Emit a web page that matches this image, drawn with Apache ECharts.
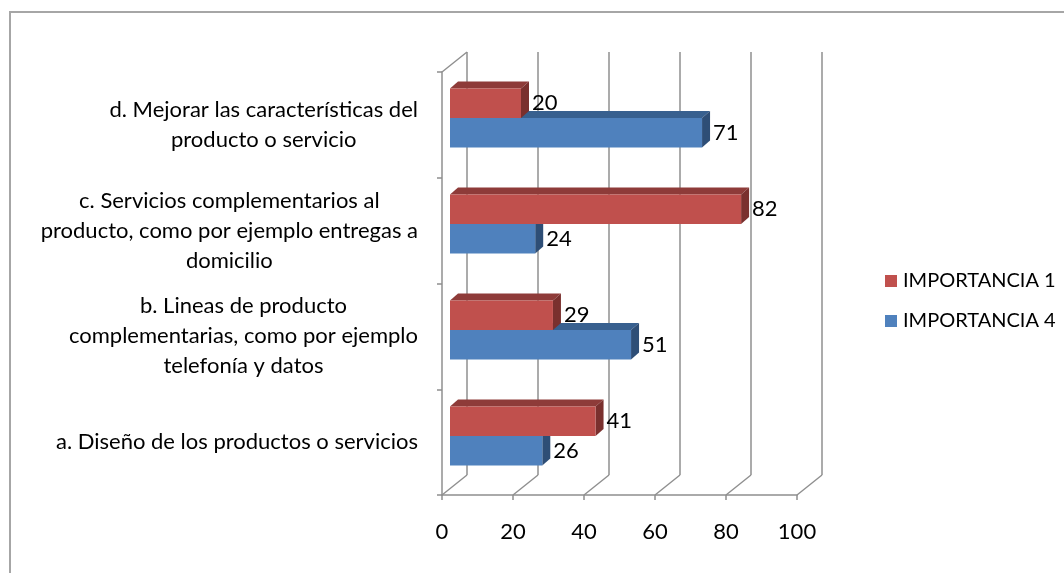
<!DOCTYPE html>
<html>
<head>
<meta charset="utf-8">
<script src="https://cdn.jsdelivr.net/npm/echarts@6/dist/echarts.min.js"></script>
<style>
  html, body { margin: 0; padding: 0; background: #ffffff; }
  #chart { width: 1064px; height: 573px; }
</style>
</head>
<body>
<div id="chart"></div>
<script>
// Categories, bottom to top
const categories = [
  'a. Diseño de los productos o servicios',
  'b. Lineas de producto\ncomplementarias, como por ejemplo\ntelefonía y datos',
  'c. Servicios complementarios al\nproducto, como por ejemplo entregas a\ndomicilio',
  'd. Mejorar las características del\nproducto o servicio'
];
const seriesNames = ['IMPORTANCIA 1', 'IMPORTANCIA 4'];
const importancia1 = [41, 29, 82, 20];
const importancia4 = [26, 51, 24, 71];
const xTicks = [0, 20, 40, 60, 80, 100];

// Layout / style settings
const FONT = 'Lato';
const FS = 22;
const DEPTH_X = 25, DEPTH_Y = 20;   // floor depth offset (front -> back)
const BAR_DX = 8, BAR_DY = 7;       // bar depth offset
const BAR_H = 29.5;
const GRID_COLOR = '#8f8f8f';

const palette = {
  red:  { front: '#C0504D', top: '#8E3B39', side: '#7A302E' },
  blue: { front: '#4F81BD', top: '#38608F', side: '#2E4E76' }
};

const chart = echarts.init(document.getElementById('chart'), null, { renderer: 'canvas' });

function barRenderer(upper, col) {
  return function (params, api) {
    const v = api.value(0), i = api.value(1);
    const start = api.coord([0, i]);
    const end = api.coord([v, i]);
    const cy = end[1];
    const y0 = upper ? cy - BAR_H : cy;
    const x0 = start[0], x1 = end[0];
    const h = BAR_H;
    return {
      type: 'group',
      children: [
        { type: 'polygon', shape: { points: [[x0, y0], [x0 + BAR_DX, y0 - BAR_DY], [x1 + BAR_DX, y0 - BAR_DY], [x1, y0]] },
          style: { fill: col.top } },
        { type: 'polygon', shape: { points: [[x1, y0], [x1 + BAR_DX, y0 - BAR_DY], [x1 + BAR_DX, y0 + h - BAR_DY], [x1, y0 + h]] },
          style: { fill: col.side } },
        { type: 'rect', shape: { x: x0, y: y0, width: x1 - x0, height: h },
          style: { fill: col.front } },
        { type: 'text', style: { text: String(v), x: x1 + BAR_DX + 3, y: y0 + h / 2,
          align: 'left', verticalAlign: 'middle', font: FS + 'px ' + FONT, fill: '#000' } }
      ]
    };
  };
}

// Floor diagonals and the top edge of the side wall
function floorRenderer(params, api) {
  const t = api.value(0);
  const cs = params.coordSys;
  const x = api.coord([t, 0])[0];
  const bottom = cs.y + cs.height;
  const children = [
    { type: 'line', shape: { x1: x, y1: bottom, x2: x - DEPTH_X, y2: bottom + DEPTH_Y },
      style: { stroke: GRID_COLOR, lineWidth: 1.5 } }
  ];
  if (t === xTicks[0]) {
    children.push({ type: 'line', shape: { x1: x, y1: cs.y, x2: x - DEPTH_X, y2: cs.y + DEPTH_Y },
      style: { stroke: GRID_COLOR, lineWidth: 1.5 } });
  }
  return { type: 'group', children: children };
}

const option = {
  backgroundColor: '#ffffff',
  animation: false,
  graphic: [{
    type: 'rect', silent: true, z: -10,
    shape: { x: 10, y: 12, width: 1200, height: 700 },
    style: { fill: 'none', stroke: '#a6a6a6', lineWidth: 2 }
  }],
  legend: {
    orient: 'vertical',
    left: 880, top: 266,
    icon: 'rect', itemWidth: 12, itemHeight: 12, itemGap: 20,
    data: seriesNames,
    textStyle: { fontFamily: FONT, fontSize: 20, color: '#000', padding: [0, 0, 0, 1] }
  },
  grid: [
    { left: 450, top: 65, width: 355, height: 424 },   // bars
    { left: 467, top: 52, width: 355, height: 423 },   // back wall
    { left: 442, top: 72, width: 355, height: 423 }    // front axes
  ],
  xAxis: [
    { gridIndex: 0, type: 'value', min: 0, max: 100, show: false },
    { gridIndex: 1, type: 'value', min: 0, max: 100, interval: 20,
      axisLine: { show: false }, axisTick: { show: false }, axisLabel: { show: false },
      splitLine: { show: true, lineStyle: { color: GRID_COLOR, width: 1.5 } } },
    { gridIndex: 2, type: 'value', min: 0, max: 100, interval: 20,
      axisLine: { show: true, lineStyle: { color: GRID_COLOR, width: 1.5 } },
      axisTick: { show: true, length: 5, lineStyle: { color: GRID_COLOR, width: 1.5 } },
      splitLine: { show: false },
      axisLabel: { margin: 26, fontFamily: FONT, fontSize: FS, color: '#000' } }
  ],
  yAxis: [
    { gridIndex: 0, type: 'category', data: categories, show: false },
    { gridIndex: 1, type: 'category', data: categories, show: false },
    { gridIndex: 2, type: 'category', data: categories,
      axisLine: { show: true, lineStyle: { color: GRID_COLOR, width: 1.5 } },
      axisTick: { show: true, length: 5, lineStyle: { color: GRID_COLOR, width: 1.5 } },
      splitLine: { show: false },
      axisLabel: {
        margin: 24, align: 'right', color: '#000',
        formatter: function (val) {
          return val.split('\n').map(function (l) { return '{c|' + l + '}'; }).join('\n');
        },
        rich: { c: { align: 'center', fontFamily: FONT, fontSize: FS, lineHeight: 30, color: '#000' } }
      } }
  ],
  series: [
    { type: 'custom', name: 'floor', xAxisIndex: 1, yAxisIndex: 1, z: 1, silent: true,
      data: xTicks.map(function (t) { return [t, 0]; }), renderItem: floorRenderer },
    { type: 'custom', name: seriesNames[1], xAxisIndex: 0, yAxisIndex: 0, z: 3,
      itemStyle: { color: palette.blue.front },
      data: importancia4.map(function (v, i) { return [v, i]; }),
      renderItem: barRenderer(false, palette.blue) },
    { type: 'custom', name: seriesNames[0], xAxisIndex: 0, yAxisIndex: 0, z: 4,
      itemStyle: { color: palette.red.front },
      data: importancia1.map(function (v, i) { return [v, i]; }),
      renderItem: barRenderer(true, palette.red) }
  ]
};

chart.setOption(option);
</script>
</body>
</html>
